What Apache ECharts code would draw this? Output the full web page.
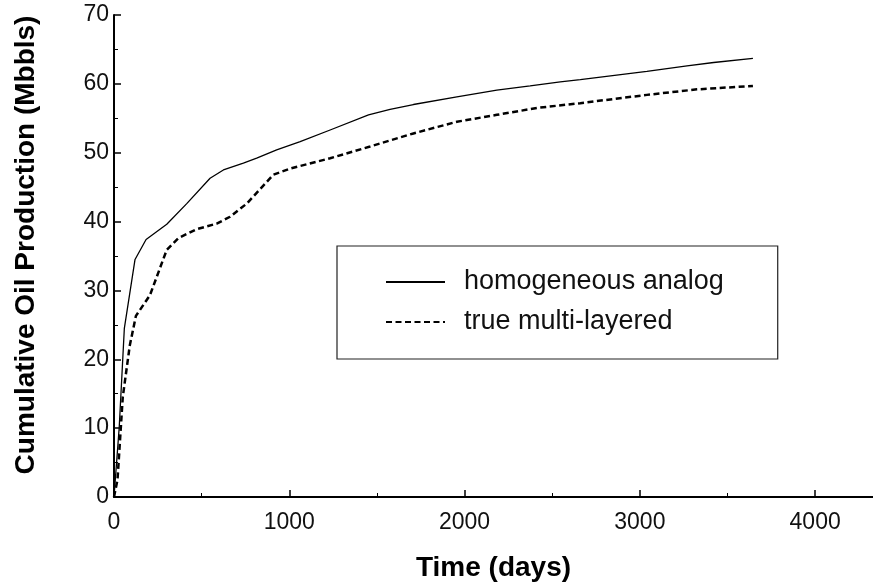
<!DOCTYPE html>
<html>
<head>
<meta charset="utf-8">
<script src="https://cdn.jsdelivr.net/npm/echarts@6/dist/echarts.min.js"></script>
<style>
  html, body { margin: 0; padding: 0; background: #fff; }
  #chart { width: 873px; height: 583px; }
</style>
</head>
<body>
<div id="chart"></div>
<script>
// time in days, cumulative oil in Mbbls
const homoDays = [0, 30, 59, 120, 183, 301, 415, 548, 624, 738, 814, 928, 1062, 1233, 1452, 1575, 1708, 1956, 2184, 2374, 2546, 2660, 3040, 3269, 3421, 3645];
const homoOil  = [0, 10.2, 24.5, 34.5, 37.4, 39.6, 42.6, 46.3, 47.5, 48.5, 49.2, 50.4, 51.6, 53.3, 55.5, 56.3, 57.0, 58.1, 59.1, 59.7, 60.3, 60.6, 61.8, 62.6, 63.1, 63.7];

const layerDays = [0, 20, 50, 90, 125, 205, 301, 367, 472, 586, 662, 757, 909, 1005, 1157, 1233, 1461, 1708, 1956, 2184, 2413, 2660, 3040, 3326, 3645];
const layerOil  = [0, 2.5, 14.5, 22, 26.3, 29.3, 35.9, 37.6, 38.9, 39.7, 40.7, 42.6, 46.8, 47.7, 48.7, 49.2, 50.9, 52.8, 54.5, 55.5, 56.5, 57.2, 58.4, 59.2, 59.7];

const xMajorTicks = [0, 1000, 2000, 3000, 4000];
const xMinorTicks = [500, 1500, 2500, 3500];
const seriesNames = ['homogeneous analog', 'true multi-layered'];

const font = 'Liberation Sans, Arial, Helvetica, sans-serif';
const pairs = (xs, ys) => xs.map((x, i) => [x, ys[i]]);

const chart = echarts.init(document.getElementById('chart'));

const option = {
  animation: false,
  backgroundColor: '#fff',
  grid: { left: 114, right: 0, top: 15, bottom: 86, outerBoundsMode: 'none', containLabel: false },
  legend: {
    orient: 'vertical',
    left: 337,
    top: 246,
    backgroundColor: '#fff',
    borderColor: '#222',
    borderWidth: 1.2,
    padding: [22, 54, 23, 48],
    itemWidth: 59,
    itemHeight: 14,
    itemGap: 12,
    data: seriesNames,
    itemStyle: { opacity: 0 },
    textStyle: { fontFamily: font, fontSize: 27, color: '#111', lineHeight: 28, padding: [0, 0, 0, 14] }
  },
  xAxis: [
    {
      type: 'value', min: 0, max: 4330,
      name: 'Time (days)', nameLocation: 'middle', nameGap: 57,
      nameTextStyle: { fontFamily: font, fontSize: 28, fontWeight: 'bold', color: '#000' },
      axisLine: { lineStyle: { color: '#000', width: 2 } },
      axisTick: { inside: true, length: 7, lineStyle: { color: '#000', width: 1.5 }, customValues: xMajorTicks },
      axisLabel: { fontFamily: font, fontSize: 23, color: '#111', margin: 14, customValues: xMajorTicks, formatter: v => String(v) },
      splitLine: { show: false }
    },
    {
      type: 'value', min: 0, max: 4330, position: 'bottom',
      axisLine: { show: false },
      axisTick: { inside: true, length: 4, lineStyle: { color: '#000', width: 1 }, customValues: xMinorTicks },
      axisLabel: { show: false },
      splitLine: { show: false }
    }
  ],
  yAxis: {
    type: 'value', min: 0, max: 70, interval: 10,
    name: 'Cumulative Oil Production (Mbbls)', nameLocation: 'middle', nameGap: 74,
    nameTextStyle: { fontFamily: font, fontSize: 28, fontWeight: 'bold', color: '#000', padding: [0, 0, 0, 22] },
    axisLine: { show: true, lineStyle: { color: '#000', width: 2 } },
    axisTick: { inside: true, length: 7, lineStyle: { color: '#000', width: 1.5 } },
    minorTick: { show: true, splitNumber: 2, length: 4, lineStyle: { color: '#000', width: 1 } },
    axisLabel: { fontFamily: font, fontSize: 23, color: '#111', margin: 5 },
    splitLine: { show: false }
  },
  series: [
    {
      name: seriesNames[0], type: 'line', xAxisIndex: 0,
      data: pairs(homoDays, homoOil),
      symbol: 'none', smooth: false,
      lineStyle: { color: '#000', width: 1.3 },
      itemStyle: { color: '#000' }
    },
    {
      name: seriesNames[1], type: 'line', xAxisIndex: 0,
      data: pairs(layerDays, layerOil),
      symbol: 'none', smooth: false,
      lineStyle: { color: '#000', width: 2.5, type: [6, 3.5] },
      itemStyle: { color: '#000' }
    }
  ]
};

chart.setOption(option);
</script>
</body>
</html>
